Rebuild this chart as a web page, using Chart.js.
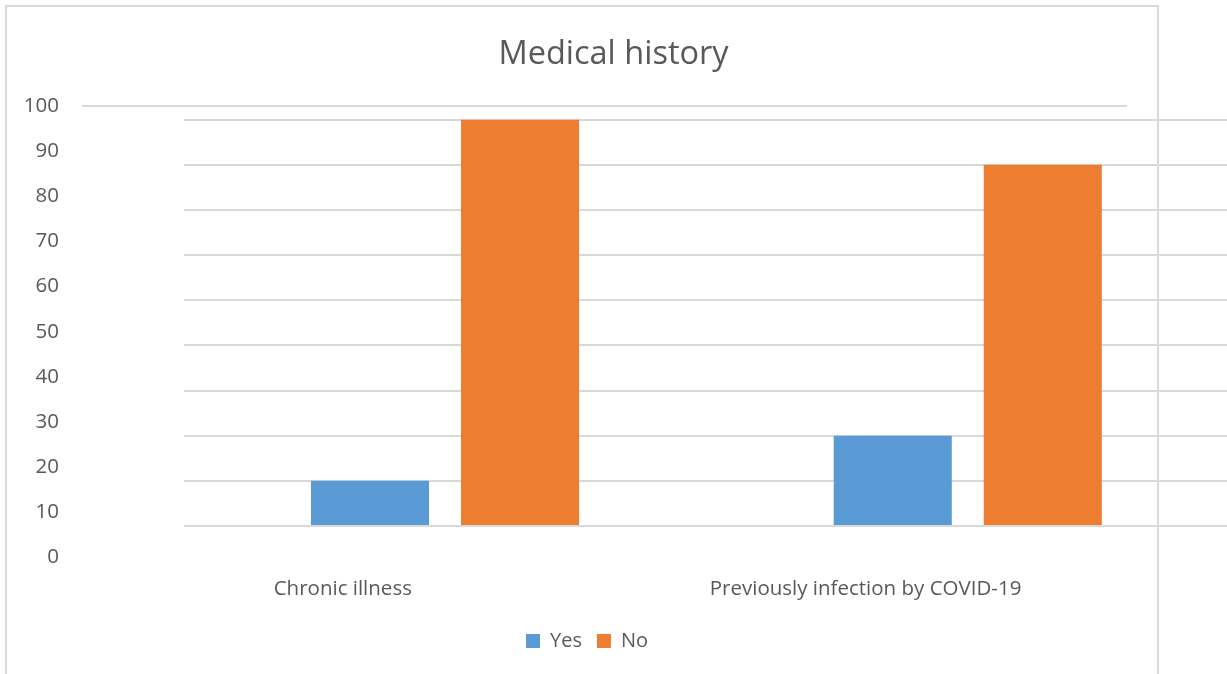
<!DOCTYPE html>
<html>
<head>
<meta charset="utf-8">
<title>Medical history</title>
<script src="https://cdn.jsdelivr.net/npm/chart.js@4/dist/chart.umd.min.js"></script>
<style>
  html, body { margin: 0; padding: 0; background: #ffffff; }
  #wrap { position: relative; width: 1227px; height: 674px; overflow: hidden; }
  #frame {
    position: absolute; left: 5px; top: 5px; width: 1154px; height: 720px;
    box-sizing: border-box; border: 2px solid #d9d9d9; pointer-events: none;
  }
  canvas { display: block; }
</style>
</head>
<body>
<div id="wrap">
  <canvas id="chart" width="1227" height="674"></canvas>
  <div id="frame"></div>
</div>
<script>
// Categories and series (percent of respondents)
const categories = ['Chronic illness', 'Previously infection by COVID-19'];
const yesValues = [10, 20];
const noValues = [90, 80];

// Value-axis tick labels and the gridline levels behind the bars
const yTickValues = [0, 10, 20, 30, 40, 50, 60, 70, 80, 90, 100];
const gridValues = [0, 10, 20, 30, 40, 50, 60, 70, 80, 90];

const GRID = '#d9d9d9';
const CLEAR = 'rgba(217,217,217,0)';
const TEXT = '#595959';

Chart.defaults.font.family = "'Open Sans', sans-serif";
Chart.defaults.color = TEXT;

// Horizontal gridline paint limited to [fromPx, toPx] of the canvas
function bandColor(chart, fromPx, toPx) {
  const area = chart.chartArea;
  if (!area) return GRID;
  const w = area.right - area.left;
  const a = Math.min(Math.max((fromPx - area.left) / w, 0), 1);
  const b = Math.min(Math.max((toPx - area.left) / w, 0), 1);
  const g = chart.ctx.createLinearGradient(area.left, 0, area.right, 0);
  g.addColorStop(0, CLEAR);
  g.addColorStop(a, CLEAR);
  g.addColorStop(a, GRID);
  g.addColorStop(b, GRID);
  g.addColorStop(b, CLEAR);
  g.addColorStop(1, CLEAR);
  return g;
}

// Nudges the legend row left so it sits under the framed panel
const legendOffset = {
  id: 'legendOffset',
  afterLayout(chart, args, opts) {
    if (chart.legend) chart.legend.right -= opts.shift || 0;
  }
};

const toPoints = vals => vals.map((v, i) => ({ x: i, y: v }));

new Chart(document.getElementById('chart'), {
  type: 'bar',
  data: {
    datasets: [
      { label: 'Yes', data: toPoints(yesValues), backgroundColor: '#5b9bd5', xAxisID: 'xb', yAxisID: 'yb' },
      { label: 'No', data: toPoints(noValues), backgroundColor: '#ed7d31', xAxisID: 'xb', yAxisID: 'yb' }
    ]
  },
  plugins: [legendOffset],
  options: {
    responsive: false,
    animation: false,
    devicePixelRatio: 1,
    categoryPercentage: 0.574,
    barPercentage: 0.787,
    layout: { padding: { left: 0, right: 0, top: 0, bottom: 13 } },
    plugins: {
      tooltip: { enabled: false },
      legendOffset: { shift: 53 },
      title: {
        display: true,
        text: 'Medical history',
        color: TEXT,
        font: { size: 32.5, weight: 'normal' },
        padding: { top: 35, bottom: 32 }
      },
      legend: {
        position: 'bottom',
        labels: {
          boxWidth: 14,
          boxHeight: 14,
          padding: 15,
          color: TEXT,
          font: { size: 20 }
        }
      }
    },
    scales: {
      // category label axis
      x: {
        type: 'linear',
        position: 'bottom',
        offset: false,
        min: -0.4989,
        max: 1.6914,
        afterBuildTicks: s => { s.ticks = categories.map((c, i) => ({ value: i })); },
        afterFit: s => { s.height = 58.6; },
        ticks: {
          padding: 19,
          color: TEXT,
          font: { size: 20.5 },
          maxRotation: 0,
          callback: v => categories[v]
        },
        grid: { display: false, drawTicks: false, offset: false },
        border: { display: false }
      },
      // axis the bars are placed on
      xb: {
        type: 'linear',
        display: false,
        offset: false,
        min: -0.6944,
        max: 1.4959,
        grid: { offset: false },
        afterBuildTicks: s => { s.ticks = categories.map((c, i) => ({ value: i })); }
      },
      // value labels 0-100
      y: {
        type: 'linear',
        position: 'left',
        min: 0,
        max: 100,
        afterBuildTicks: s => { s.ticks = yTickValues.map(v => ({ value: v })); },
        afterFit: s => { s.width = 82; },
        ticks: { padding: 23, color: TEXT, font: { size: 20.5 } },
        grid: {
          drawTicks: false,
          lineWidth: 2,
          color: ctx => {
            if (!ctx.tick || ctx.tick.value !== 100) return CLEAR;
            const ch = ctx.chart;
            return bandColor(ch, ch.chartArea ? ch.chartArea.left : 0, ch.scales.x.getPixelForValue(1.5));
          }
        },
        border: { display: false }
      },
      // value axis of the bars with its own gridlines
      yb: {
        type: 'linear',
        position: 'right',
        min: -6.96,
        max: 93.04,
        afterBuildTicks: s => { s.ticks = gridValues.map(v => ({ value: v })); },
        afterFit: s => { s.width = 0; },
        ticks: { display: false },
        grid: {
          drawTicks: false,
          lineWidth: 2,
          color: ctx => {
            const ch = ctx.chart;
            return bandColor(ch, ch.scales.xb.getPixelForValue(-0.5), ch.chartArea ? ch.chartArea.right + 1 : 2000);
          }
        },
        border: { display: false }
      }
    }
  }
});
</script>
</body>
</html>
